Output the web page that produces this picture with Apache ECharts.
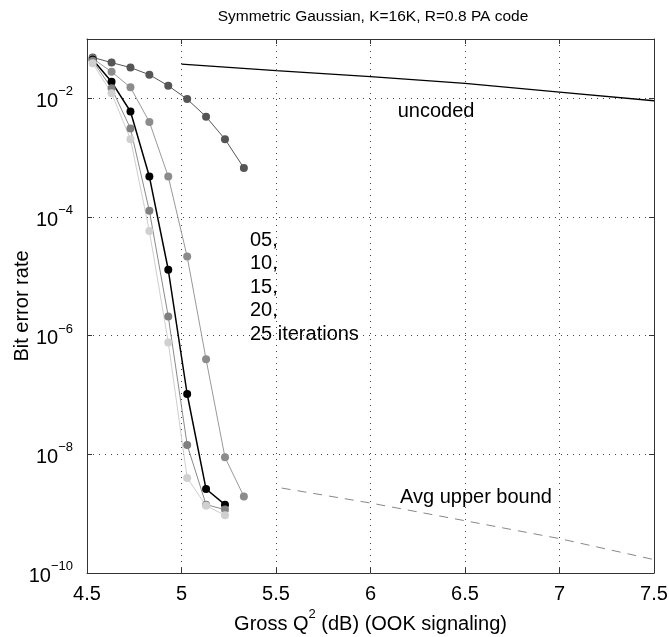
<!DOCTYPE html>
<html>
<head>
<meta charset="utf-8">
<script src="https://cdn.jsdelivr.net/npm/echarts@6/dist/echarts.min.js"></script>
<style>
html,body{margin:0;padding:0;background:#fff;}
#main{width:669px;height:637px;}
</style>
</head>
<body>
<div id="main"></div>
<script>
// ---- data ----
const titleText = 'Symmetric Gaussian, K=16K, R=0.8 PA code';
const xTicks = [4.5, 5, 5.5, 6, 6.5, 7, 7.5];
const qdB = [4.53, 4.63, 4.73, 4.83, 4.93, 5.03, 5.13, 5.23, 5.33];
const ber05 = [4.9e-2, 4.0e-2, 3.3e-2, 2.5e-2, 1.63e-2, 9.7e-3, 4.9e-3, 2.05e-3, 6.7e-4];
const ber10 = [4.7e-2, 2.8e-2, 1.53e-2, 4.0e-3, 4.8e-4, 2.15e-5, 4.0e-7, 8.9e-9, 1.95e-9];
const ber15 = [4.5e-2, 1.9e-2, 6.0e-3, 4.8e-4, 1.29e-5, 1.04e-7, 2.6e-9, 1.42e-9];
const ber20 = [4.3e-2, 1.48e-2, 3.1e-3, 1.27e-4, 2.1e-6, 1.44e-8, 1.42e-9, 1.17e-9];
const ber25 = [3.9e-2, 1.22e-2, 2.05e-3, 5.8e-5, 7.7e-7, 4.0e-9, 1.36e-9, 9.4e-10];
const uncodedX = [5, 5.5, 6, 6.5, 7, 7.5];
const uncodedY = [3.78e-2, 2.92e-2, 2.32e-2, 1.79e-2, 1.27e-2, 9.1e-3];
const boundX = [5.53, 6, 6.5, 7, 7.5];
const boundY = [2.7e-9, 1.51e-9, 7.6e-10, 3.8e-10, 1.68e-10];
const iterLabel = ['05,', '10,', '15,', '20,', '25 iterations'];

const FONT = 'Liberation Sans, Arial, Helvetica, sans-serif';
const pair = (xs, ys) => ys.map((y, i) => [xs[i], y]);

function iterSeries(name, ys, line, mark, w) {
  return {
    name, type: 'line', data: pair(qdB, ys),
    symbol: 'circle', symbolSize: 8,
    lineStyle: { color: line, width: w },
    itemStyle: { color: mark, borderWidth: 0 },
    z: 3
  };
}
function note(x, y, text, lh) {
  return {
    type: 'scatter', data: [[x, y]], symbolSize: 0, silent: true,
    itemStyle: { opacity: 1 },
    label: {
      show: true, position: 'right', distance: 0, formatter: text, opacity: 1,
      fontFamily: FONT, fontSize: 20, color: '#000', lineHeight: lh || 24,
      align: 'left', verticalAlign: 'middle'
    }, z: 5
  };
}
const supRich = {
  b: { fontFamily: FONT, fontSize: 20, color: '#000', lineHeight: 26, verticalAlign: 'bottom' },
  s: { fontFamily: FONT, fontSize: 13, color: '#000', lineHeight: 14, verticalAlign: 'top' }
};
const gridLine = { show: true, lineStyle: { color: '#444', width: 1, type: [1, 5] } };
const tickIn = { show: true, inside: true, length: 5, lineStyle: { color: '#333' } };
const axLine = { show: true, lineStyle: { color: '#333', width: 1 } };

const chart = echarts.init(document.getElementById('main'), null, { renderer: 'canvas' });
chart.setOption({
  animation: false,
  backgroundColor: '#fff',
  title: {
    text: titleText, left: 368, top: 4, textAlign: 'center',
    textStyle: { fontFamily: FONT, fontSize: 15.5, fontWeight: 'normal', color: '#000' }
  },
  grid: { left: 87, right: 15, top: 39, bottom: 64, containLabel: false, outerBoundsMode: 'none' },
  xAxis: [{
    type: 'value', min: xTicks[0], max: xTicks[xTicks.length - 1], interval: 0.5,
    axisLine: axLine, axisTick: tickIn, splitLine: gridLine,
    axisLabel: { fontFamily: FONT, fontSize: 20, color: '#000', margin: 11,
      formatter: v => String(v) },
    name: '{n|Gross Q}{s|2}{n| (dB) (OOK signaling)}', nameLocation: 'middle', nameGap: 35,
    nameMoveOverlap: false,
    nameTextStyle: { rich: {
      n: { fontFamily: FONT, fontSize: 20, color: '#000', lineHeight: 26, verticalAlign: 'bottom' },
      s: { fontFamily: FONT, fontSize: 13, color: '#000', lineHeight: 16, verticalAlign: 'top' } } }
  }, {
    type: 'value', position: 'top', min: xTicks[0], max: xTicks[xTicks.length - 1], interval: 0.5,
    axisLine: axLine, axisTick: tickIn, splitLine: { show: false }, axisLabel: { show: false }
  }],
  yAxis: [{
    type: 'log', logBase: 10, min: 1e-10, max: 1e-1, interval: 2,
    axisLine: axLine, axisTick: tickIn, splitLine: gridLine, minorTick: { show: false },
    axisLabel: {
      margin: 14, rich: supRich,
      formatter: v => {
        const e = Math.round(Math.log10(v));
        if (e % 2 !== 0) return '';
        return '{b|10}{s|\u2212' + Math.abs(e) + '}';
      }
    },
    name: 'Bit error rate', nameLocation: 'middle', nameGap: 55, nameRotate: 90,
    nameMoveOverlap: false,
    nameTextStyle: { fontFamily: FONT, fontSize: 20, color: '#000' }
  }, {
    type: 'log', logBase: 10, min: 1e-10, max: 1e-1, interval: 2, position: 'right',
    axisLine: axLine, axisTick: tickIn, splitLine: { show: false }, axisLabel: { show: false }
  }],
  series: [
    { type: 'line', name: 'uncoded', data: pair(uncodedX, uncodedY), symbol: 'none',
      lineStyle: { color: '#000', width: 1.3 }, z: 2 },
    { type: 'line', name: 'Avg upper bound', data: pair(boundX, boundY), symbol: 'none',
      lineStyle: { color: '#888', width: 1, type: [9, 7] }, z: 2 },
    iterSeries('05', ber05, '#555', '#555', 1),
    iterSeries('10', ber10, '#999', '#8c8c8c', 1),
    iterSeries('15', ber15, '#000', '#000', 1.5),
    iterSeries('20', ber20, '#8a8a8a', '#808080', 1),
    iterSeries('25', ber25, '#cfcfcf', '#d0d0d0', 1),
    note(6.144, 6.1e-3, 'uncoded'),
    note(6.156, 1.86e-9, 'Avg upper bound'),
    note(5.362, 6.5e-6, iterLabel.join('\n'), 23.5)
  ]
});
</script>
</body>
</html>
